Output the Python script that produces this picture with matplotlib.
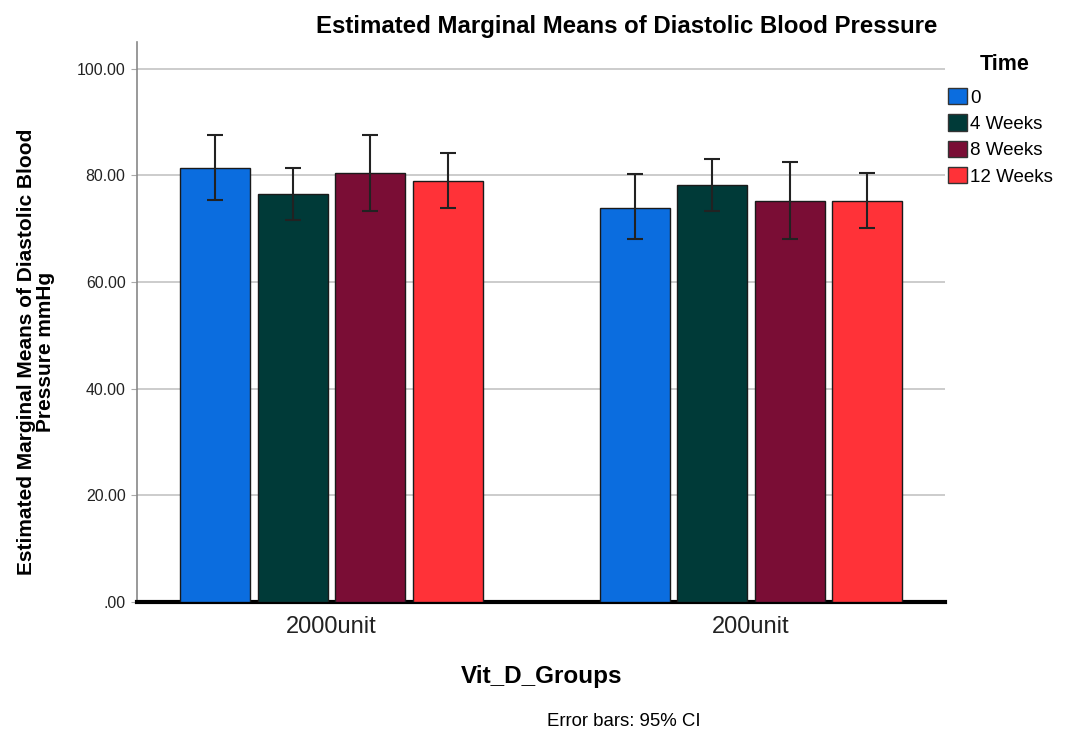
import matplotlib
matplotlib.use("Agg")
import matplotlib.pyplot as plt
import numpy as np

plt.rcParams['font.family'] = ['Liberation Sans', 'DejaVu Sans']

groups = ["2000unit", "200unit"]
times = ["0", "4 Weeks", "8 Weeks", "12 Weeks"]
means = {
    "0":        [81.4, 73.9],
    "4 Weeks":  [76.4, 78.2],
    "8 Weeks":  [80.4, 75.2],
    "12 Weeks": [78.9, 75.2],
}
ci_low = {
    "0":        [75.3, 67.95],
    "4 Weeks":  [71.6, 73.2],
    "8 Weeks":  [73.3, 68.1],
    "12 Weeks": [73.9, 70.1],
}
ci_high = {
    "0":        [87.55, 80.2],
    "4 Weeks":  [81.4, 83.05],
    "8 Weeks":  [87.55, 82.4],
    "12 Weeks": [84.2, 80.5],
}
colors = ["#0B6DDF", "#003A38", "#7A0D35", "#FF3238"]
yticks = [0, 20, 40, 60, 80, 100]
ytick_labels = [".00", "20.00", "40.00", "60.00", "80.00", "100.00"]

fig = plt.figure(figsize=(10.68, 7.34), dpi=100)
ax = fig.add_axes([0.128, 0.180, 0.757, 0.763])

x = np.arange(len(groups))
width = 0.167
step = 0.185
for i, t in enumerate(times):
    pos = x + (i - 1.5) * step
    m = np.array(means[t])
    lo = m - np.array(ci_low[t])
    hi = np.array(ci_high[t]) - m
    ax.bar(pos, m, width=width, color=colors[i], edgecolor="#1a1a1a",
           linewidth=1.0, label=t, zorder=3)
    ax.errorbar(pos, m, yerr=[lo, hi], fmt="none", ecolor="#222222",
                elinewidth=1.5, capsize=6, capthick=1.5, zorder=4)

ax.set_xlim(-0.465, 1.463)
ax.set_ylim(0, 105)
ax.set_yticks(yticks)
ax.set_yticklabels(ytick_labels, fontsize=11.4, color="#222222")
ax.set_xticks(x)
ax.set_xticklabels(groups, fontsize=17, color="#222222")
ax.yaxis.grid(True, color="#c4c4c4", linewidth=1.2, zorder=0)
ax.set_axisbelow(True)
for s in ["top", "right"]:
    ax.spines[s].set_visible(False)
ax.spines["left"].set_color("#888888")
ax.spines["left"].set_linewidth(1.2)
ax.spines["bottom"].set_color("black")
ax.spines["bottom"].set_linewidth(3)
ax.tick_params(axis="y", length=4, color="#aaaaaa", pad=4)
ax.tick_params(axis="x", length=0, pad=10)

fig.text(542 / 1068, 1 - 677 / 734, "Vit_D_Groups", ha="center", va="center",
         fontsize=17.5, fontweight="bold")
fig.text(36 / 1068, 1 - 352 / 734,
         "Estimated Marginal Means of Diastolic Blood\nPressure mmHg",
         ha="center", va="center", rotation=90, multialignment="center",
         fontsize=15, fontweight="bold", linespacing=1.05)

fig.text(627 / 1068, 1 - 26 / 734, "Estimated Marginal Means of Diastolic Blood Pressure",
         ha="center", va="center", fontsize=17.3, fontweight="bold")
fig.text(624 / 1068, 1 - 721 / 734, "Error bars: 95% CI", ha="center", va="center",
         fontsize=13.4)

fig.text(1005 / 1068, 1 - 65 / 734, "Time", ha="center", va="center",
         fontsize=15.5, fontweight="bold")
leg = fig.legend(loc="upper left", bbox_to_anchor=(948 / 1068, 1 - 88 / 734),
                 bbox_transform=fig.transFigure, frameon=False,
                 fontsize=13.5, handlelength=1.0, handleheight=0.95,
                 handletextpad=0.2, labelspacing=0.42, borderaxespad=0,
                 borderpad=0)
for h in leg.legend_handles:
    h.set_edgecolor("#333333")

fig.savefig("out.png", dpi=100)
